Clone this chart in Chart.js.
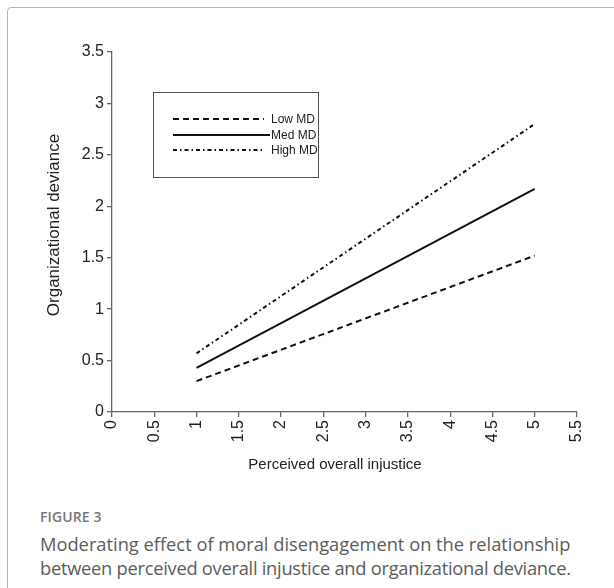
<!DOCTYPE html>
<html>
<head>
<meta charset="utf-8">
<script src="https://cdn.jsdelivr.net/npm/chart.js@4.4.1/dist/chart.umd.min.js"></script>
<style>
  html, body { margin: 0; padding: 0; background: #fff; }
  body { width: 614px; height: 588px; position: relative; overflow: hidden; }
  #frame { position: absolute; left: 7px; top: 7px; width: 700px; height: 700px;
           border: 1.5px solid #b5b5b5; border-radius: 4px; box-sizing: border-box; }
  #wrap { position: absolute; left: 0; top: 0; width: 614px; height: 490px; }
  #fig { position: absolute; left: 40px; top: 507px; font-family: "Open Sans", sans-serif;
         font-size: 14px; color: #777; font-weight: 600; letter-spacing: 0.1px; }
  .cap { position: absolute; left: 40px; font-family: "Open Sans", sans-serif;
         font-size: 18.3px; line-height: 23.5px; color: #5c5c5c; white-space: nowrap; }
</style>
</head>
<body>
<div id="frame"></div>
<div id="wrap"><canvas id="c" width="614" height="490"></canvas></div>
<div id="fig">FIGURE 3</div>
<div class="cap" style="top:532px">Moderating effect of moral disengagement on the relationship</div>
<div class="cap" style="top:555.5px; letter-spacing:-0.26px">between perceived overall injustice and organizational deviance.</div>
<script>
const xValues = [1, 5];
const lowMD = [0.30, 1.52];
const medMD = [0.43, 2.17];
const highMD = [0.57, 2.80];
const seriesNames = ["Low MD", "Med MD", "High MD"];
const xTicks = [0, 0.5, 1, 1.5, 2, 2.5, 3, 3.5, 4, 4.5, 5, 5.5];
const yTicks = [0, 0.5, 1, 1.5, 2, 2.5, 3, 3.5];
const xTitle = 'Perceived overall injustice';
const yTitle = 'Organizational deviance';

const dashes = [[6, 4], [], [4, 3, 1.5, 3]];
const seriesData = [lowMD, medMD, highMD];

const datasets = seriesNames.map((name, i) => ({
  label: name,
  data: xValues.map((x, j) => ({ x: x, y: seriesData[i][j] })),
  borderColor: '#111',
  borderWidth: 2,
  borderDash: dashes[i],
  pointRadius: 0,
  fill: false,
  tension: 0
}));

const boxLegend = {
  id: 'boxLegend',
  afterDraw(chart) {
    const ctx = chart.ctx;
    ctx.save();
    ctx.strokeStyle = '#555';
    ctx.lineWidth = 1;
    ctx.strokeRect(153.5, 92.5, 165, 85);
    const rows = [119, 135, 150];
    const ends = [264, 270, 264];
    ctx.font = '12px "Liberation Sans", Arial, sans-serif';
    ctx.fillStyle = '#222';
    ctx.textBaseline = 'middle';
    chart.data.datasets.forEach((ds, i) => {
      ctx.beginPath();
      ctx.setLineDash(ds.borderDash);
      ctx.lineWidth = 2;
      ctx.strokeStyle = '#111';
      ctx.moveTo(173, rows[i]);
      ctx.lineTo(ends[i], rows[i]);
      ctx.stroke();
      ctx.setLineDash([]);
      ctx.fillText(ds.label, 271, rows[i] + 0.5);
    });
    // axis titles
    ctx.textAlign = 'center';
    ctx.fillStyle = '#222';
    ctx.font = '15px "Liberation Sans", Arial, sans-serif';
    ctx.fillText(xTitle, 335, 465);
    ctx.translate(54, 225);
    ctx.rotate(-Math.PI / 2);
    ctx.font = '17px "Liberation Sans", Arial, sans-serif';
    ctx.fillText(yTitle, 0, 0);
    ctx.restore();
  }
};

const tickFont = { family: '"Liberation Sans", Arial, sans-serif', size: 16 };

new Chart(document.getElementById('c'), {
  type: 'line',
  data: { datasets: datasets },
  options: {
    responsive: false,
    animation: false,
    layout: { padding: { left: 41, right: 37, top: 52, bottom: 8 } },
    plugins: { legend: { display: false }, tooltip: { enabled: false } },
    scales: {
      x: {
        type: 'linear', min: 0, max: 5.5,
        afterBuildTicks(s) { s.ticks = xTicks.map(v => ({ value: v })); },
        afterFit(s) { s.height = 70; },
        grid: { display: true, drawOnChartArea: false, drawTicks: true, tickLength: 5, color: '#666', lineWidth: 1.3 },
        border: { display: true, color: '#666', width: 1.3 },
        ticks: { color: '#222', minRotation: 90, maxRotation: 90, padding: 3,
                 font: tickFont, callback: v => String(v) },
        title: { display: false }
      },
      y: {
        type: 'linear', min: 0, max: 3.5,
        afterBuildTicks(s) { s.ticks = yTicks.map(v => ({ value: v })); },
        afterFit(s) { s.width = 71; },
        grid: { display: true, drawOnChartArea: false, drawTicks: true, tickLength: 5, color: '#666', lineWidth: 1.3 },
        border: { display: true, color: '#666', width: 1.3 },
        ticks: { color: '#222', padding: 3, font: tickFont, callback: v => String(v) },
        title: { display: false }
      }
    }
  },
  plugins: [boxLegend]
});
</script>
</body>
</html>
